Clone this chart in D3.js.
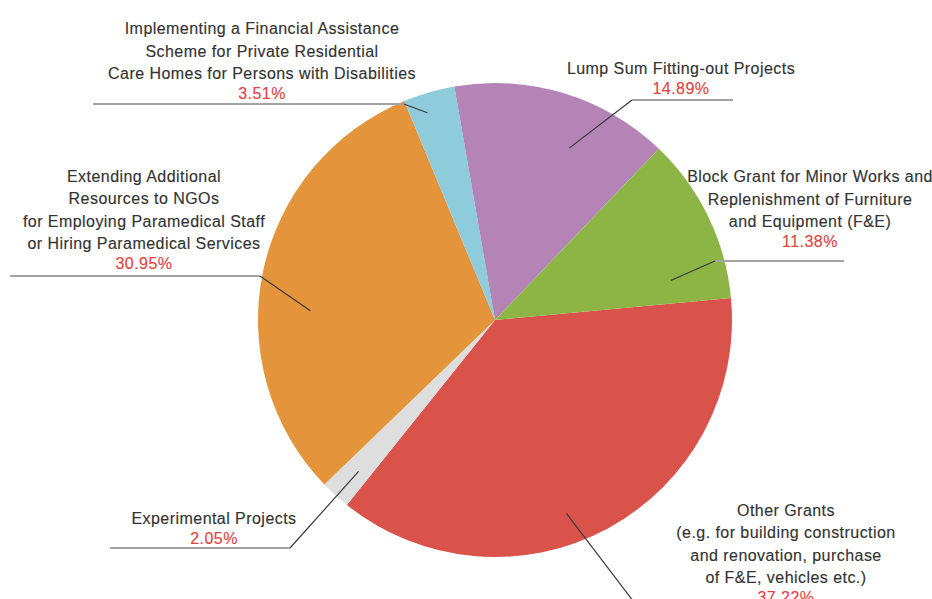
<!DOCTYPE html>
<html lang="en">
<head>
  <meta charset="UTF-8">
  <title>Grants breakdown</title>
  <style>
  body { margin: 0; background: #fff; }
  svg { display: block; }
  .name {
    font-family: "Liberation Sans", Arial, sans-serif;
    font-size: 16px;
    letter-spacing: 0.45px;
    fill: #333;
    stroke: #333;
    stroke-width: 0.15px;
  }
  .pct {
    font-family: "Liberation Sans", Arial, sans-serif;
    font-size: 16px;
    letter-spacing: 0.45px;
    fill: #e2433f;
    stroke: #e2433f;
    stroke-width: 0.15px;
  }
  .lead { fill: none; stroke: #3a3a3a; stroke-width: 1.2px; }
  .shelf { fill: none; stroke: #a3a3a3; stroke-width: 2px; }
  </style>
</head>
<body>
  <svg></svg>
  <script src="https://d3js.org/d3.v7.min.js"></script>
  <script>

  // slice order, clockwise from the right-hand side
  var names = [
    ['Other Grants', '(e.g. for building construction', 'and renovation, purchase', 'of F&E, vehicles etc.)'],
    ['Experimental Projects'],
    ['Extending Additional', 'Resources to NGOs', 'for Employing Paramedical Staff', 'or Hiring Paramedical Services'],
    ['Implementing a Financial Assistance', 'Scheme for Private Residential', 'Care Homes for Persons with Disabilities'],
    ['Lump Sum Fitting-out Projects'],
    ['Block Grant for Minor Works and', 'Replenishment of Furniture', 'and Equipment (F&E)']
  ];
  var values = [37.22, 2.05, 30.95, 3.51, 14.89, 11.38];
  var colors = ['#d9534a', '#dedede', '#e4943b', '#8ecbdb', '#b384b5', '#8cb545'];

  // label placement: text centre, baseline of the percentage, elbow of the leader,
  // far end of the shelf line, where in the slice the leader starts
  var labelX = [786, 214, 144, 262, 681, 810];
  var pctY = [603, 544, 269, 99, 94, 247];
  var elbow = [[643, 614], [290, 548], [260, 276], [404, 104], [632, 100], [715, 261]];
  var shelfEnd = [900, 110, 10, 93, 733, 844];
  var along = [0.56, 0.45, 0.42, 0.35, 0.62, 0.82];
  var depth = [0.87, 0.86, 0.78, 0.92, 0.79, 0.76];

  var width = 932, height = 599;
  var cx = 495, cy = 320, radius = 237;
  var start = 84.7 * Math.PI / 180;

  var svg = d3.select('svg').attr('width', width).attr('height', height);

  var pie = d3.pie().sort(null).startAngle(start).endAngle(start + 2 * Math.PI);
  var arc = d3.arc().innerRadius(0).outerRadius(radius);

  var arcs = pie(values);

  var g = svg.append('g').attr('transform', 'translate(' + cx + ',' + cy + ')');

  g.selectAll('path')
   .data(arcs)
   .enter()
   .append('path')
   .attr('d', arc)
   .attr('fill', function (d, i) { return colors[i]; });

  // leader lines
  arcs.forEach(function (d, i) {
    var a = d.startAngle + (d.endAngle - d.startAngle) * along[i];
    var r = radius * depth[i];
    var px = cx + r * Math.sin(a);
    var py = cy - r * Math.cos(a);
    var e = elbow[i];

    svg.append('line')
       .attr('class', 'shelf')
       .attr('x1', e[0]).attr('y1', e[1])
       .attr('x2', shelfEnd[i]).attr('y2', e[1]);

    svg.append('line')
       .attr('class', 'lead')
       .attr('x1', px).attr('y1', py)
       .attr('x2', e[0]).attr('y2', e[1]);
  });

  // text labels, stacked upward from the percentage
  names.forEach(function (lines, i) {
    var lab = svg.append('text')
                 .attr('text-anchor', 'middle');

    lines.forEach(function (t, j) {
      lab.append('tspan')
         .attr('class', 'name')
         .attr('x', labelX[i])
         .attr('y', pctY[i] - 20 - (lines.length - 1 - j) * 22.5)
         .text(t);
    });

    lab.append('tspan')
       .attr('class', 'pct')
       .attr('x', labelX[i])
       .attr('y', pctY[i])
       .text(values[i].toFixed(2) + '%');
  });
  </script>
</body>
</html>
